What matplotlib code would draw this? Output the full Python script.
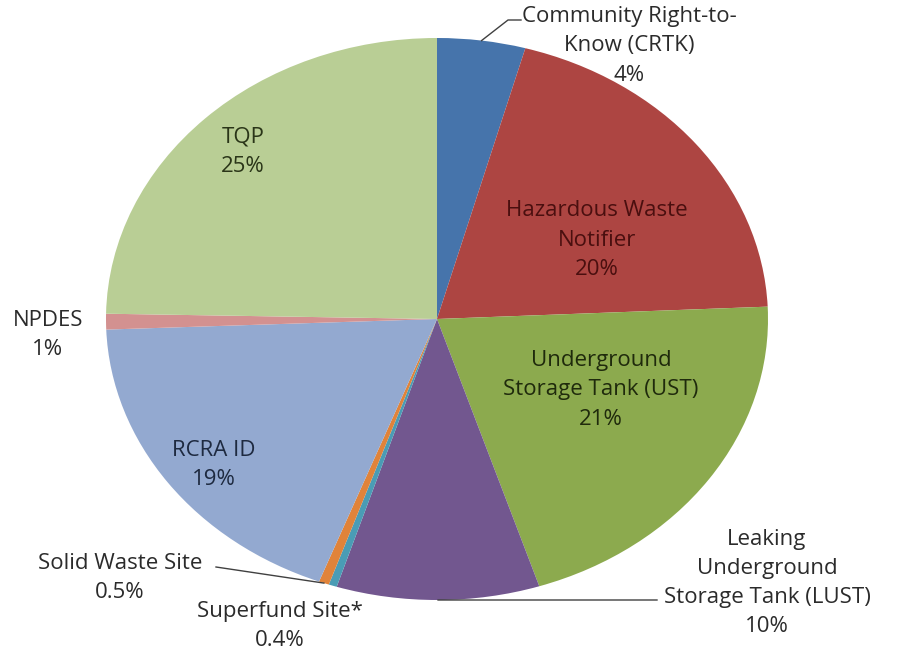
import numpy as np
import matplotlib
matplotlib.use("Agg")
import matplotlib.pyplot as plt

# ---- data (clockwise from 12 o'clock) ----
categories = ["Community Right-to-\nKnow (CRTK)", "Hazardous Waste\nNotifier",
              "Underground\nStorage Tank (UST)", "Leaking\nUnderground\nStorage Tank (LUST)",
              "Superfund Site*", "Solid Waste Site", "RCRA ID", "NPDES", "TQP"]
values = [4.3, 20.0, 20.7, 9.9, 0.4, 0.5, 18.6, 0.9, 24.7]
pct_labels = ["4%", "20%", "21%", "10%", "0.4%", "0.5%", "19%", "1%", "25%"]
colors = ["#4674AB", "#AD4542", "#8CAA4E", "#72578F", "#4A9CB5", "#E0833A",
          "#93A9D0", "#D39190", "#B9CE95"]

W, H = 898, 651
CX, CY, RX, RY = 437, 319, 331, 281   # pie centre and radii in pixels

fig = plt.figure(figsize=(W / 100, H / 100), dpi=100)
ax = fig.add_axes([0, 0, 1, 1])
ax.pie(values, colors=colors, startangle=90, counterclock=False, radius=1,
       wedgeprops=dict(linewidth=0))
ax.set_aspect("auto")
ax.set_xlim(-CX / RX, (W - CX) / RX)
ax.set_ylim(-(H - CY) / RY, CY / RY)
ax.axis("off")


def px(x, y):
    return (x - CX) / RX, (CY - y) / RY


# wedge mid-angles for leader lines
total = sum(values)
bounds = 90 - 360 * np.cumsum([0] + values) / total
mids = (bounds[:-1] + bounds[1:]) / 2


def edge(i):
    a = np.deg2rad(mids[i])
    return np.cos(a), np.sin(a)


font = ["Open Sans", "DejaVu Sans"]
fs = 16
outside = "#2b2b2b"

# label positions (pixel centres) and colours
label_pos = [(629, 46), (597, 240), (601, 390), (767, 583),
             (280, 626), (120, 578), (214, 465), (48, 335), (243, 152)]
label_col = [outside, "#4a0f0f", "#1f2a0c", outside, outside, outside,
             "#1e2a40", outside, "#2a3518"]

for i, (name, p) in enumerate(zip(categories, pct_labels)):
    x, y = px(*label_pos[i])
    ax.text(x, y, f"{name}\n{p}", ha="center", va="center", fontsize=fs,
            family=font, color=label_col[i], linespacing=1.52)

# leader lines
lc = "#404040"
ex, ey = edge(0)
ax.plot([ex, px(508, 20)[0], px(521, 20)[0]], [ey, px(508, 20)[1], px(521, 20)[1]],
        color=lc, lw=1.0)
ex, ey = edge(3)
ax.plot([ex, px(657, 600)[0]], [ey, px(657, 600)[1]], color=lc, lw=1.0)
ex, ey = edge(5)
ax.plot([ex, px(216, 567)[0]], [ey, px(216, 567)[1]], color=lc, lw=1.0)

fig.savefig("out.png", dpi=100, facecolor="white")
